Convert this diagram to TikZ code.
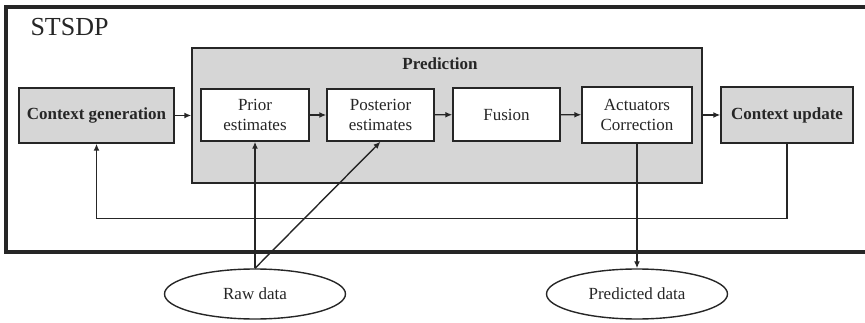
\documentclass[tikz,border=0pt]{standalone}
\usepackage{fontspec}
\setmainfont{Liberation Serif}
\usetikzlibrary{arrows.meta,shapes.geometric}
\definecolor{boxgray}{HTML}{D6D6D6}
\definecolor{inkgray}{HTML}{262626}
\newcommand{\boxfont}{\fontsize{17}{20}\selectfont}
\tikzset{
  box/.style={draw=inkgray,line width=1.4pt,fill=white,align=center,inner sep=0pt,text=inkgray,font=\boxfont},
  graybox/.style={box,fill=boxgray,font=\boxfont\bfseries},
  datanode/.style={ellipse,draw=inkgray,line width=1.4pt,inner sep=0pt,minimum width=181pt,minimum height=50pt,text=inkgray,font=\boxfont},
  flow/.style={draw=inkgray,line width=1.4pt,-{Latex[length=7pt,width=6pt]}}
}
\begin{document}
\begin{tikzpicture}[x=1pt,y=-1pt]
\useasboundingbox (0,0) rectangle (865,323);
\draw[inkgray,line width=3.5pt] (870,7) -| (6,252) -- (870,252);
\node[text=inkgray,font=\fontsize{26}{30}\selectfont,anchor=west] (title) at (27,27) {STSDP};
\node[graybox,minimum width=510pt,minimum height=135pt] (pred) at (447,115.5) {};
\node[text=inkgray,font=\boxfont\bfseries] (predlabel) at (440,64) {Prediction};
\node[graybox,minimum width=155pt,minimum height=55pt] (ctxgen) at (96.5,115.5) {Context generation};
\node[box,minimum width=108pt,minimum height=52pt] (prior) at (255,115) {Prior\\estimates};
\node[box,minimum width=107pt,minimum height=52pt] (post) at (380.5,115) {Posterior\\estimates};
\node[box,minimum width=107pt,minimum height=53pt] (fusion) at (506.5,114.5) {Fusion};
\node[box,minimum width=110pt,minimum height=56pt] (act) at (637,115) {Actuators\\Correction};
\node[graybox,minimum width=132pt,minimum height=56pt] (ctxupd) at (787,115) {Context update};
\node[datanode] (raw) at (255,294) {Raw data};
\node[datanode] (pdata) at (637,294) {Predicted data};
\draw[flow] (ctxgen) -- (pred.west |- ctxgen);
\draw[flow] (prior) -- (post);
\draw[flow] (post) -- (fusion);
\draw[flow] (fusion) -- (act);
\draw[flow] (pred.east |- ctxupd) -- (ctxupd);
\draw[flow] (ctxupd.south) -- ++(0,75) -| (ctxgen.south);
\draw[flow] (raw.north) -- (prior.south);
\draw[flow] (raw.north) -- (post.south);
\draw[flow] (act.south) -- (pdata.north);
\end{tikzpicture}
\end{document}
